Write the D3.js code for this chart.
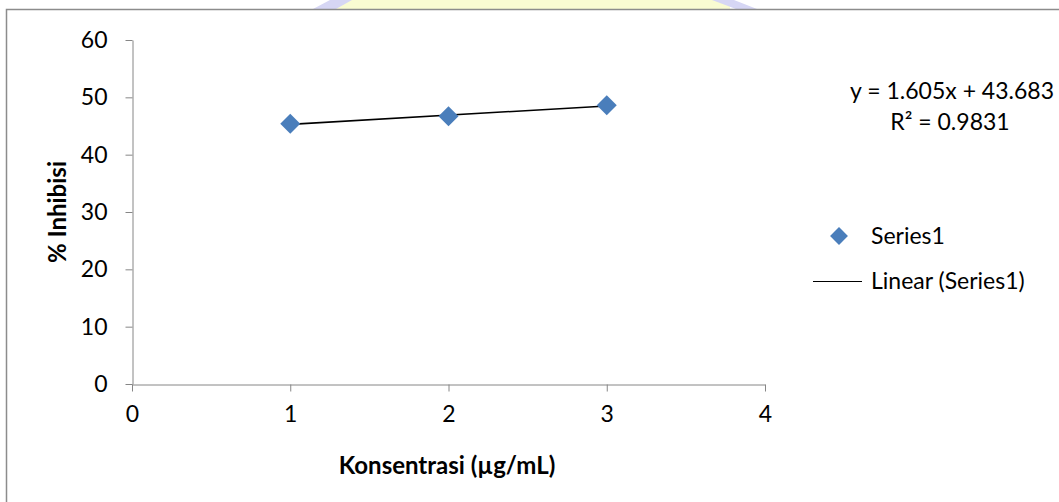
<!DOCTYPE html>
<html>
<head>
<meta charset="utf-8">
<script src="https://cdn.jsdelivr.net/npm/d3@7"></script>
<style>
  html, body { margin: 0; padding: 0; background: #fff; }
  svg { display: block; }
</style>
</head>
<body>
<div id="chart"></div>
<script>
// Data
const concentrations = [1, 2, 3];
const inhibition = [45.4, 46.7, 48.6];
const xTicks = [0, 1, 2, 3, 4];
const yTicks = [0, 10, 20, 30, 40, 50, 60];
const slope = 1.605, intercept = 43.683;
const equationLabel = "y = 1.605x + 43.683";
const r2Label = "R² = 0.9831";
const legendLabels = ["Series1", "Linear (Series1)"];

const width = 1059, height = 502;
const font = "Lato, 'Open Sans', sans-serif";
const svg = d3.select("#chart").append("svg")
    .attr("width", width)
    .attr("height", height)
    .attr("font-family", font);

// faint watermark peeking above the frame
const wm = svg.append("g");
wm.append("rect").attr("x", 330).attr("y", 0).attr("width", 400).attr("height", 9)
    .attr("fill", "#f9fbd2");
wm.append("path").attr("d", "M313,9 L330,0 L352,0 L336,9 Z").attr("fill", "#d6d6f4");
wm.append("path").attr("d", "M712,0 L734,0 L757,9 L736,9 Z").attr("fill", "#d6d6f4");

// chart frame
svg.append("rect")
    .attr("x", 6.5).attr("y", 9.5)
    .attr("width", 1200).attr("height", 600)
    .attr("fill", "none")
    .attr("stroke", "#8c8c8c")
    .attr("stroke-width", 1.5);

const x = d3.scaleLinear().domain([0, 4]).range([132, 765]);
const y = d3.scaleLinear().domain([0, 60]).range([384, 40]);

const axisColor = "#868686";

// y axis
const yAxis = svg.append("g")
    .attr("transform", "translate(132.5,0)")
    .call(d3.axisLeft(y).tickValues(yTicks).tickFormat(d3.format("d"))
        .tickSize(7).tickSizeOuter(0).tickPadding(18));
// x axis
const xAxis = svg.append("g")
    .attr("transform", "translate(0,384.5)")
    .call(d3.axisBottom(x).tickValues(xTicks).tickFormat(d3.format("d"))
        .tickSize(7).tickSizeOuter(0));

[xAxis, yAxis].forEach(a => {
  a.attr("font-family", font).attr("font-size", 23);
  a.select(".domain").attr("stroke", axisColor);
  a.selectAll(".tick line").attr("stroke", axisColor);
  a.selectAll(".tick text").attr("fill", "#000");
});
xAxis.selectAll(".tick text").attr("y", 29).attr("dy", "0.35em");

// axis titles
svg.append("text")
    .attr("x", 447).attr("y", 474)
    .attr("text-anchor", "middle")
    .attr("font-size", 24).attr("font-weight", "bold")
    .text("Konsentrasi (µg/mL)");
svg.append("text")
    .attr("transform", "translate(66,212) rotate(-90)")
    .attr("text-anchor", "middle")
    .attr("font-size", 24).attr("font-weight", "bold")
    .text("% Inhibisi");

// trendline
const trendX = d3.extent(concentrations);
svg.append("line")
    .attr("x1", x(trendX[0])).attr("y1", y(slope * trendX[0] + intercept))
    .attr("x2", x(trendX[1])).attr("y2", y(slope * trendX[1] + intercept))
    .attr("stroke", "#000").attr("stroke-width", 1.6);

// points (diamonds)
svg.append("g").selectAll("path")
    .data(concentrations.map((c, i) => [c, inhibition[i]]))
    .enter().append("path")
    .attr("d", d3.symbol().type(d3.symbolSquare).size(200))
    .attr("transform", d => `translate(${x(d[0])},${y(d[1])}) rotate(45)`)
    .attr("fill", "#4a7ebb");

// equation label
svg.append("text")
    .attr("x", 1054).attr("y", 99)
    .attr("text-anchor", "end")
    .attr("font-size", 23)
    .text(equationLabel);
svg.append("text")
    .attr("x", 950).attr("y", 130)
    .attr("text-anchor", "middle")
    .attr("font-size", 23)
    .text(r2Label);

// legend
const legend = svg.append("g").attr("font-size", 23);
legend.append("path")
    .attr("d", d3.symbol().type(d3.symbolSquare).size(160))
    .attr("transform", "translate(839,236) rotate(45)")
    .attr("fill", "#4a7ebb");
legend.append("text")
    .attr("x", 871).attr("y", 244)
    .text(legendLabels[0]);
legend.append("line")
    .attr("x1", 813).attr("x2", 862)
    .attr("y1", 281.5).attr("y2", 281.5)
    .attr("stroke", "#000").attr("stroke-width", 1.2);
legend.append("text")
    .attr("x", 871).attr("y", 289)
    .text(legendLabels[1]);
</script>
</body>
</html>
